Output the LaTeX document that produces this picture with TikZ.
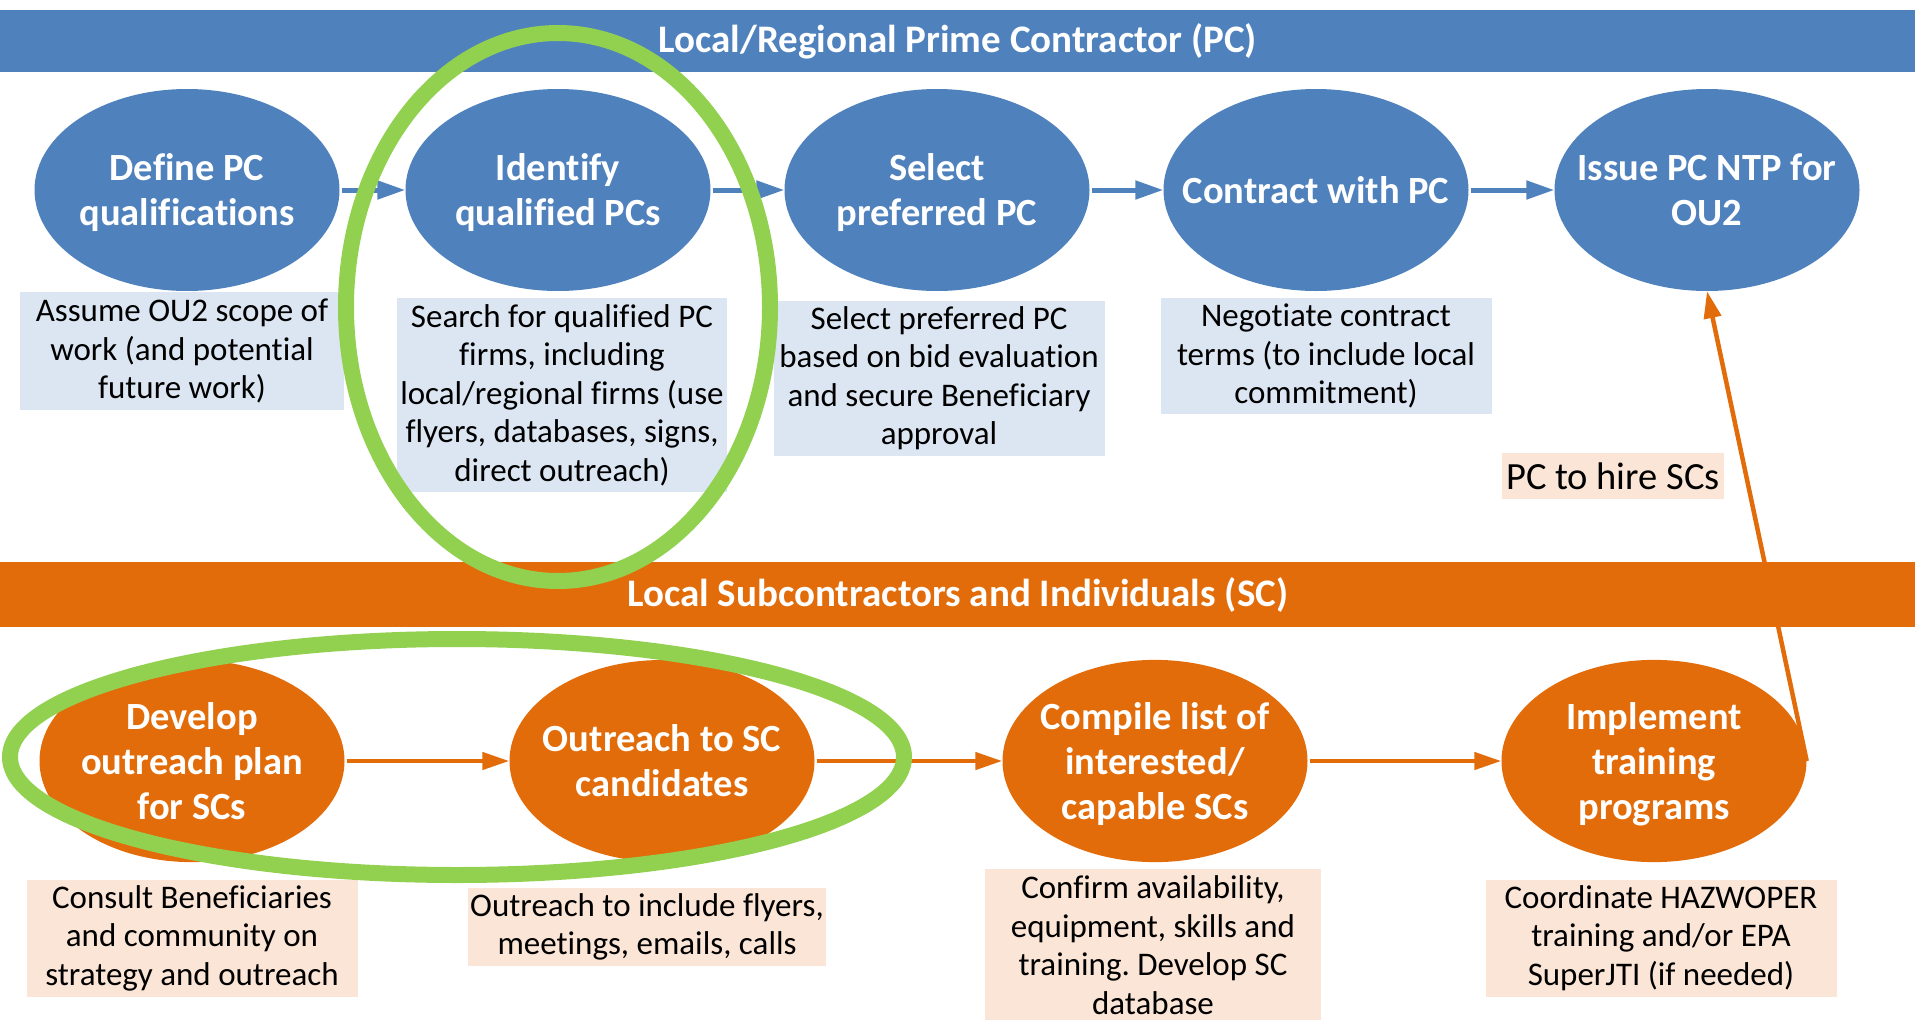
\documentclass[tikz,border=0pt]{standalone}
\usepackage{fontspec}
\setmainfont[Ligatures=NoCommon]{Carlito}
\usetikzlibrary{arrows.meta,shapes.geometric}
\definecolor{pcblue}{HTML}{4F81BD}
\definecolor{scorange}{HTML}{E36C0A}
\definecolor{hlgreen}{HTML}{92D050}
\definecolor{lblue}{HTML}{DCE6F2}
\definecolor{lpeach}{HTML}{FBE5D6}
\frenchspacing
\newcommand{\eltext}[1]{\raisebox{0pt}[\dimexpr\height+8pt\relax][\depth]{\makebox[0pt]{\begin{tabular}{@{}c@{}}#1\end{tabular}}}}
\begin{document}
\begin{tikzpicture}[x=1pt,y=-1pt,
  bar/.style={anchor=north west,minimum width=1915pt,minimum height=62pt,inner sep=0pt,text=white,font=\fontsize{39}{44}\selectfont\bfseries},
  stepel/.style={ellipse,minimum width=305pt,minimum height=202pt,inner sep=0pt,text=white,font=\fontsize{38.5}{45}\selectfont\bfseries},
  bstep/.style={stepel,fill=pcblue},
  ostep/.style={stepel,fill=scorange},
  desc/.style={inner sep=0pt,align=center,font=\fontsize{33}{38.5}\selectfont},
  bdesc/.style={desc,fill=lblue},
  odesc/.style={desc,fill=lpeach},
  barrow/.style={draw=pcblue,line width=5pt,shorten <=2pt,-{Triangle[length=28pt,width=18pt]}},
  oarrow/.style={draw=scorange,line width=4.5pt,shorten <=2pt,-{Triangle[length=27pt,width=17pt]}},
  hl/.style={ellipse,draw=hlgreen,line width=16pt,inner sep=0pt}
]
\useasboundingbox (0,0) rectangle (1915,1020);
% banners
\node[bar,fill=pcblue] (pcbar) at (0,10) {Local/Regional Prime Contractor (PC)};
\node[bar,fill=scorange,minimum height=65pt] (scbar) at (0,562) {Local Subcontractors and Individuals (SC)};
% PC steps
\node[bstep] (e1) at (187,190) {\eltext{Define PC\\qualifications}};
\node[bstep] (e2) at (558,190) {\eltext{Identify\\qualified PCs}};
\node[bstep] (e3) at (937,190) {\eltext{Select\\preferred PC}};
\node[bstep] (e4) at (1316,190) {\eltext{Contract with PC}};
\node[bstep] (e5) at (1707,190) {\eltext{Issue PC NTP for\\OU2}};
% PC descriptions
\node[bdesc,minimum width=324pt,minimum height=118pt] (b1) at (182,351) {Assume OU2 scope of\\work (and potential\\future work)};
\node[bdesc,minimum width=330pt,minimum height=194pt] (b2) at (562,395) {Search for qualified PC\\firms, including\\local/regional firms (use\\flyers, databases, signs,\\direct outreach)};
\node[bdesc,minimum width=331pt,minimum height=155pt] (b3) at (939,378) {Select preferred PC\\based on bid evaluation\\and secure Beneficiary\\approval};
\node[bdesc,minimum width=331pt,minimum height=116pt] (b4) at (1326,356) {Negotiate contract\\terms (to include local\\commitment)};
% SC steps
\node[ostep] (o1) at (192,761) {\eltext{Develop\\outreach plan\\for SCs}};
\node[ostep] (o2) at (662,761) {\eltext{Outreach to SC\\candidates}};
\node[ostep] (o3) at (1155,761) {\eltext{Compile list of\\interested/\\capable SCs}};
\node[ostep] (o4) at (1654,761) {\eltext{Implement\\training\\programs}};
% SC descriptions
\node[odesc,minimum width=331pt,minimum height=117pt] (p1) at (192,938) {Consult Beneficiaries\\and community on\\strategy and outreach};
\node[odesc,minimum width=358pt,minimum height=78pt] (p2) at (647,927) {Outreach to include flyers,\\meetings, emails, calls};
\node[odesc,minimum width=336pt,minimum height=152pt] (p3) at (1153,945) {Confirm availability,\\equipment, skills and\\training. Develop SC\\database};
\node[odesc,minimum width=351pt,minimum height=117pt] (p4) at (1661,938) {Coordinate HAZWOPER\\training and/or EPA\\SuperJTI (if needed)};
\node[odesc,minimum width=222pt,minimum height=46pt,font=\fontsize{38.5}{44}\selectfont] (hire) at (1613,476) {PC to hire SCs};
% arrows
\draw[barrow] (e1) -- (e2);
\draw[barrow] (e2) -- (e3);
\draw[barrow] (e3) -- (e4);
\draw[barrow] (e4) -- (e5);
\draw[oarrow] (o1) -- (o2);
\draw[oarrow] (o2) -- (o3);
\draw[oarrow] (o3) -- (o4);
\draw[oarrow,shorten <=0pt] (o4.east) -- (e5.south);
% green highlights
\node[hl,minimum width=424pt,minimum height=548pt] (g1) at (558,307) {};
\node[hl,minimum width=894pt,minimum height=236pt] (g2) at (457,757) {};
\end{tikzpicture}
\end{document}
